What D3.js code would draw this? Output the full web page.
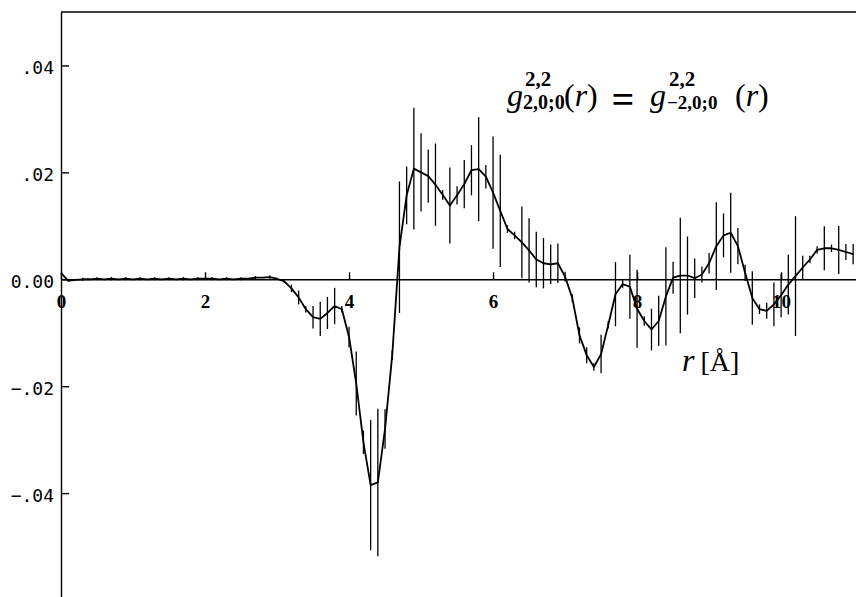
<!DOCTYPE html>
<html>
<head>
<meta charset="utf-8">
<script src="https://cdn.jsdelivr.net/npm/d3@7"></script>
<style>
  body { margin: 0; background: #fff; }
  svg { display: block; }
  .yax text { font-family: "DejaVu Sans Mono", monospace; font-size: 18px; fill: #000; }
  .xax text { font-family: "Liberation Serif", serif; font-weight: bold; font-size: 19px; fill: #000; }
  .ax path, .ax line { stroke: #000; stroke-width: 1.4px; }
  .lbl { font-family: "Liberation Serif", serif; fill: #000; }
</style>
</head>
<body>
<div id="chart"></div>
<script>
// r grid in Angstrom (step 0.1)
var rValues = [
  0.0, 0.1, 0.2, 0.3, 0.4, 0.5, 0.6, 0.7, 0.8, 0.9,
  1.0, 1.1, 1.2, 1.3, 1.4, 1.5, 1.6, 1.7, 1.8, 1.9,
  2.0, 2.1, 2.2, 2.3, 2.4, 2.5, 2.6, 2.7, 2.8, 2.9,
  3.0, 3.1, 3.2, 3.3, 3.4, 3.5, 3.6, 3.7, 3.8, 3.9,
  4.0, 4.1, 4.2, 4.3, 4.4, 4.5, 4.6, 4.7, 4.8, 4.9,
  5.0, 5.1, 5.2, 5.3, 5.4, 5.5, 5.6, 5.7, 5.8, 5.9,
  6.0, 6.1, 6.2, 6.3, 6.4, 6.5, 6.6, 6.7, 6.8, 6.9,
  7.0, 7.1, 7.2, 7.3, 7.4, 7.5, 7.6, 7.7, 7.8, 7.9,
  8.0, 8.1, 8.2, 8.3, 8.4, 8.5, 8.6, 8.7, 8.8, 8.9,
  9.0, 9.1, 9.2, 9.3, 9.4, 9.5, 9.6, 9.7, 9.8, 9.9,
  10.0, 10.1, 10.2, 10.3, 10.4, 10.5, 10.6, 10.7, 10.8, 10.9,
  11.0
];

// g(r) values
var gValues = [
  0.0012, -0.0003, -0.0001, 0.0000, 0.0000, 0.0001, 0.0000, 0.0001, 0.0000, 0.0001,
  0.0000, 0.0001, 0.0000, 0.0001, 0.0000, 0.0001, 0.0000, 0.0001, 0.0000, 0.0001,
  0.0001, 0.0001, 0.0000, 0.0001, 0.0000, 0.0001, 0.0001, 0.0003, 0.0003, 0.0004,
  0.0001, -0.0004, -0.0017, -0.0034, -0.0056, -0.0071, -0.0074, -0.0063, -0.0050, -0.0056,
  -0.0108, -0.0195, -0.0305, -0.0385, -0.0380, -0.0280, -0.0142, 0.0060, 0.0157, 0.0207,
  0.0200, 0.0193, 0.0177, 0.0158, 0.0138, 0.0157, 0.0178, 0.0204, 0.0206, 0.0192,
  0.0162, 0.0128, 0.0094, 0.0082, 0.0069, 0.0054, 0.0037, 0.0030, 0.0028, 0.0030,
  0.0005, -0.0035, -0.0105, -0.0142, -0.0164, -0.0140, -0.0085, -0.0028, -0.0009, -0.0014,
  -0.0055, -0.0078, -0.0094, -0.0078, -0.0032, 0.0003, 0.0007, 0.0007, 0.0002, 0.0009,
  0.0030, 0.0062, 0.0082, 0.0087, 0.0062, 0.0012, -0.0035, -0.0056, -0.0059, -0.0047,
  -0.0030, -0.0010, 0.0006, 0.0022, 0.0037, 0.0055, 0.0058, 0.0058, 0.0055, 0.0051,
  0.0047
];

// error bar half-widths
var gErrors = [
  0, 0, 0, 0.0003, 0, 0.0003, 0, 0.0003, 0, 0.0003,
  0, 0.0003, 0, 0.0003, 0, 0.0003, 0, 0.0003, 0, 0.0003,
  0, 0.0003, 0, 0.0003, 0, 0.0003, 0, 0.0003, 0, 0.0003,
  0, 0.0003, 0.0007, 0.0013, 0.0006, 0.0021, 0.0032, 0.0030, 0.0034, 0.0006,
  0.0019, 0.0060, 0.0022, 0.0122, 0.0138, 0.0037, 0.0009, 0.0123, 0.0054, 0.0114,
  0.0073, 0.0050, 0.0077, 0.0009, 0.0071, 0.0017, 0.0045, 0.0047, 0.0097, 0.0022,
  0.0105, 0.0105, 0.0007, 0.0007, 0.0067, 0.0060, 0.0052, 0.0047, 0.0037, 0.0037,
  0.0009, 0.0007, 0.0015, 0.0015, 0.0007, 0.0036, 0.0007, 0.0060, 0.0007, 0.0060,
  0.0073, 0.0009, 0.0039, 0.0047, 0.0092, 0.0030, 0.0108, 0.0073, 0.0037, 0.0015,
  0.0019, 0.0082, 0.0041, 0.0075, 0.0034, 0.0015, 0.0050, 0.0009, 0.0015, 0.0041,
  0.0041, 0.0056, 0.0112, 0.0022, 0.0007, 0.0007, 0.0041, 0.0007, 0.0045, 0.0015,
  0.0019
];

var yTicks = [-0.04, -0.02, 0, 0.02, 0.04];
var xTicks = [0, 2, 4, 6, 8, 10];

var width = 856, height = 597;

var svg = d3.select('#chart').append('svg')
  .attr('width', width)
  .attr('height', height);

var x = d3.scaleLinear().domain([0, 11.04]).range([61, 856]);
var y = d3.scaleLinear().domain([-0.06, 0.05]).range([600, 12]);

var data = rValues.map(function(r, i) {
  return { r: r, g: gValues[i], e: gErrors[i] };
});

// top frame line
svg.append('line')
  .attr('x1', x(0)).attr('x2', x(11.04))
  .attr('y1', y(0.05)).attr('y2', y(0.05))
  .attr('stroke', '#000').attr('stroke-width', 1.4);

// y axis
var fmtY = function(v) {
  if (v === 0) return '0.00';
  return d3.format('.2f')(v).replace('0.', '.');
};
svg.append('g')
  .attr('class', 'ax yax')
  .attr('transform', 'translate(' + x(0) + ',0)')
  .call(d3.axisLeft(y).tickValues(yTicks).tickFormat(fmtY)
    .tickSizeInner(-8).tickSizeOuter(0).tickPadding(7))
  .call(function(g) { g.selectAll('text').attr('dy', '0.45em'); });

// x axis through zero
svg.append('g')
  .attr('class', 'ax xax')
  .attr('transform', 'translate(0,' + y(0) + ')')
  .call(d3.axisBottom(x).tickValues(xTicks).tickFormat(d3.format('d'))
    .tickSizeInner(-7).tickSizeOuter(0).tickPadding(15));

// error bars
svg.append('g')
  .selectAll('line')
  .data(data.filter(function(d) { return d.e > 0; }))
  .enter().append('line')
    .attr('x1', function(d) { return x(d.r); })
    .attr('x2', function(d) { return x(d.r); })
    .attr('y1', function(d) { return y(d.g - d.e); })
    .attr('y2', function(d) { return y(d.g + d.e); })
    .attr('stroke', '#000')
    .attr('stroke-width', 1.3);

// curve
var line = d3.line()
  .x(function(d) { return x(d.r); })
  .y(function(d) { return y(d.g); });

svg.append('path')
  .datum(data)
  .attr('d', line)
  .attr('fill', 'none')
  .attr('stroke', '#000')
  .attr('stroke-width', 1.8)
  .attr('stroke-linejoin', 'round');

// formula label
var f = svg.append('g').attr('class', 'lbl');
f.append('text').attr('x', 507).attr('y', 106).attr('font-size', 32).attr('font-style', 'italic').text('g');
f.append('text').attr('x', 525).attr('y', 86).attr('font-size', 21).attr('font-weight', 'bold').text('2,2');
f.append('text').attr('x', 523).attr('y', 109).attr('font-size', 20).attr('font-weight', 'bold').text('2,0;0');
var p1 = f.append('text').attr('x', 564).attr('y', 106).attr('font-size', 32);
p1.append('tspan').text('(');
p1.append('tspan').attr('font-style', 'italic').text('r');
p1.append('tspan').text(')');
f.append('text').attr('x', 623).attr('y', 113).attr('font-size', 40).attr('text-anchor', 'middle').attr('font-weight', 'bold').text('=');
f.append('text').attr('x', 650).attr('y', 106).attr('font-size', 32).attr('font-style', 'italic').text('g');
f.append('text').attr('x', 669).attr('y', 86).attr('font-size', 21).attr('font-weight', 'bold').text('2,2');
f.append('text').attr('x', 667).attr('y', 109).attr('font-size', 19).attr('font-weight', 'bold').text('\u22122,0;0');
var p2 = f.append('text').attr('x', 735).attr('y', 106).attr('font-size', 32);
p2.append('tspan').text('(');
p2.append('tspan').attr('font-style', 'italic').text('r');
p2.append('tspan').text(')');

// axis title
var t = svg.append('text').attr('class', 'lbl').attr('x', 682).attr('y', 371).attr('font-size', 28);
t.append('tspan').attr('font-style', 'italic').attr('font-size', 32).text('r');
t.append('tspan').attr('dx', 6).text('[\u00C5]');
</script>
</body>
</html>
